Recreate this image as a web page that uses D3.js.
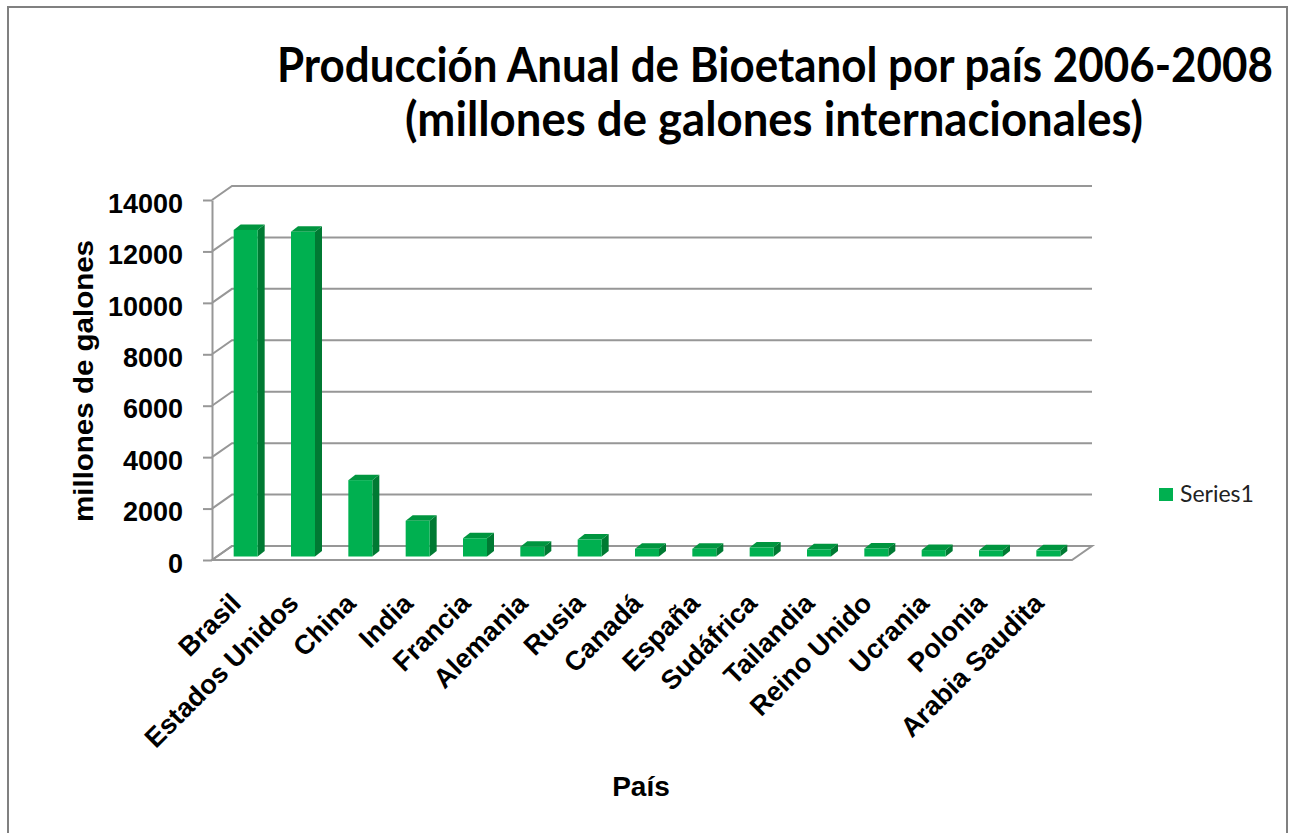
<!DOCTYPE html>
<html>
<head>
<meta charset="utf-8">
<script src="https://cdn.jsdelivr.net/npm/d3@7"></script>
<style>
  html, body { margin: 0; padding: 0; background: #fff; }
  svg { display: block; }
</style>
</head>
<body>
<svg id="chart" width="1290" height="833"></svg>
<script>
// ---- data ----
const categories = ["Brasil", "Estados Unidos", "China", "India", "Francia", "Alemania", "Rusia",
  "Canadá", "España", "Sudáfrica", "Tailandia", "Reino Unido", "Ucrania", "Polonia", "Arabia Saudita"];
const values = [12700, 12630, 2970, 1390, 710, 380, 660, 300, 300, 350, 280, 310, 250, 240, 240];
const yTicks = [0, 2000, 4000, 6000, 8000, 10000, 12000, 14000];
const seriesName = "Series1";
const titleLines = ["Producción Anual de Bioetanol por país 2006-2008", "(millones de galones internacionales)"];
const yTitle = "millones de galones";
const xTitle = "País";

// ---- layout ----
const svg = d3.select("#chart");
const X0 = 212, X1 = 1072, YTOP = 200, YBOT = 560;
const DX = 20, DY = -14;           // wall depth
const BX = 5, BY = -3.5;           // bar front offset in depth
const BDX = 7, BDY = -5.5;         // bar depth
const BW = 24;                     // bar front width
const green = "#00B050", greenSide = "#007A33", greenTop = "#00953F";
const gridColor = "#979797";
const axisFont = "'Liberation Sans', Arial, sans-serif";
const titleFont = "Lato, 'Open Sans', sans-serif";

svg.append("rect").attr("x", 8).attr("y", 7).attr("width", 1279).attr("height", 850)
  .attr("fill", "#fff").attr("stroke", "#808080").attr("stroke-width", 2);

const x = d3.scaleBand().domain(categories).range([X0, X1]).padding(0);
const y = d3.scaleLinear().domain([0, 14000]).range([YBOT, YTOP]);

// back wall gridlines
const grid = svg.append("g");
yTicks.forEach(t => {
  const yy = y(t);
  grid.append("path")
    .attr("d", `M${X0},${yy} L${X0 + DX},${yy + DY} L${X1 + DX},${yy + DY}`)
    .attr("fill", "none").attr("stroke", gridColor).attr("stroke-width", 2);
});
// floor
grid.append("path")
  .attr("d", `M${X0},${y(0)} L${X1},${y(0)} L${X1 + DX},${y(0) + DY} L${X0 + DX},${y(0) + DY} Z`)
  .attr("fill", "none").attr("stroke", gridColor).attr("stroke-width", 2);

// y axis
const yAxis = d3.axisLeft(y).tickValues(yTicks).tickSize(9).tickSizeOuter(0).tickPadding(20)
  .tickFormat(d3.format("d"));
const ga = svg.append("g").attr("transform", `translate(${X0},0)`).call(yAxis);
ga.select(".domain").attr("stroke", gridColor).attr("stroke-width", 2);
ga.selectAll(".tick line").attr("stroke", gridColor).attr("stroke-width", 2);
ga.selectAll(".tick text").attr("font-family", axisFont).attr("font-weight", "bold")
  .attr("font-size", 27).attr("fill", "#000").attr("dy", "0.45em");

// bars
const bars = svg.append("g");
categories.forEach((c, i) => {
  const v = values[i];
  const cx = x(c) + x.bandwidth() / 2 + BX;
  const x1 = cx - BW / 2, x2 = cx + BW / 2;
  const yb = y(0) + BY, yt = y(v) + BY;
  bars.append("path")
    .attr("d", `M${x2},${yb} L${x2 + BDX},${yb + BDY} L${x2 + BDX},${yt + BDY} L${x2},${yt} Z`)
    .attr("fill", greenSide);
  bars.append("path")
    .attr("d", `M${x1},${yt} L${x2},${yt} L${x2 + BDX},${yt + BDY} L${x1 + BDX},${yt + BDY} Z`)
    .attr("fill", greenTop);
  bars.append("rect").attr("x", x1).attr("y", yt).attr("width", BW).attr("height", yb - yt)
    .attr("fill", green);
});

// category labels
svg.append("g").selectAll("text").data(categories).join("text")
  .attr("transform", d => `translate(${x(d) + x.bandwidth() / 2 + 2},605) rotate(-45)`)
  .attr("text-anchor", "end")
  .attr("font-family", axisFont).attr("font-weight", "bold").attr("font-size", 27)
  .attr("fill", "#000")
  .text(d => d);

// titles (slightly condensed font, stretched vertically like the original)
const TS = 1.08;
const tg = svg.append("g").attr("transform", `scale(1,${TS})`);
tg.append("text").attr("x", 775).attr("y", 82 / TS).attr("text-anchor", "middle")
  .attr("font-family", titleFont).attr("font-weight", "bold")
  .attr("font-size", 44).attr("textLength", 996).attr("lengthAdjust", "spacingAndGlyphs")
  .text(titleLines[0]);
tg.append("text").attr("x", 774).attr("y", 136 / TS).attr("text-anchor", "middle")
  .attr("font-family", titleFont).attr("font-weight", "bold")
  .attr("font-size", 44).attr("textLength", 738).attr("lengthAdjust", "spacingAndGlyphs")
  .text(titleLines[1]);

svg.append("text").attr("transform", "translate(93,381) rotate(-90)")
  .attr("text-anchor", "middle").attr("font-family", axisFont).attr("font-weight", "bold")
  .attr("font-size", 28).attr("textLength", 282).attr("lengthAdjust", "spacingAndGlyphs")
  .text(yTitle);

svg.append("text").attr("x", 641).attr("y", 796).attr("text-anchor", "middle")
  .attr("font-family", axisFont).attr("font-weight", "bold").attr("font-size", 28).text(xTitle);

// legend
const lg = svg.append("g");
lg.append("rect").attr("x", 1159).attr("y", 488).attr("width", 14).attr("height", 13).attr("fill", green);
lg.append("text").attr("x", 1180).attr("y", 502).attr("font-family", titleFont)
  .attr("font-size", 23).attr("fill", "#222").text(seriesName);
</script>
</body>
</html>
